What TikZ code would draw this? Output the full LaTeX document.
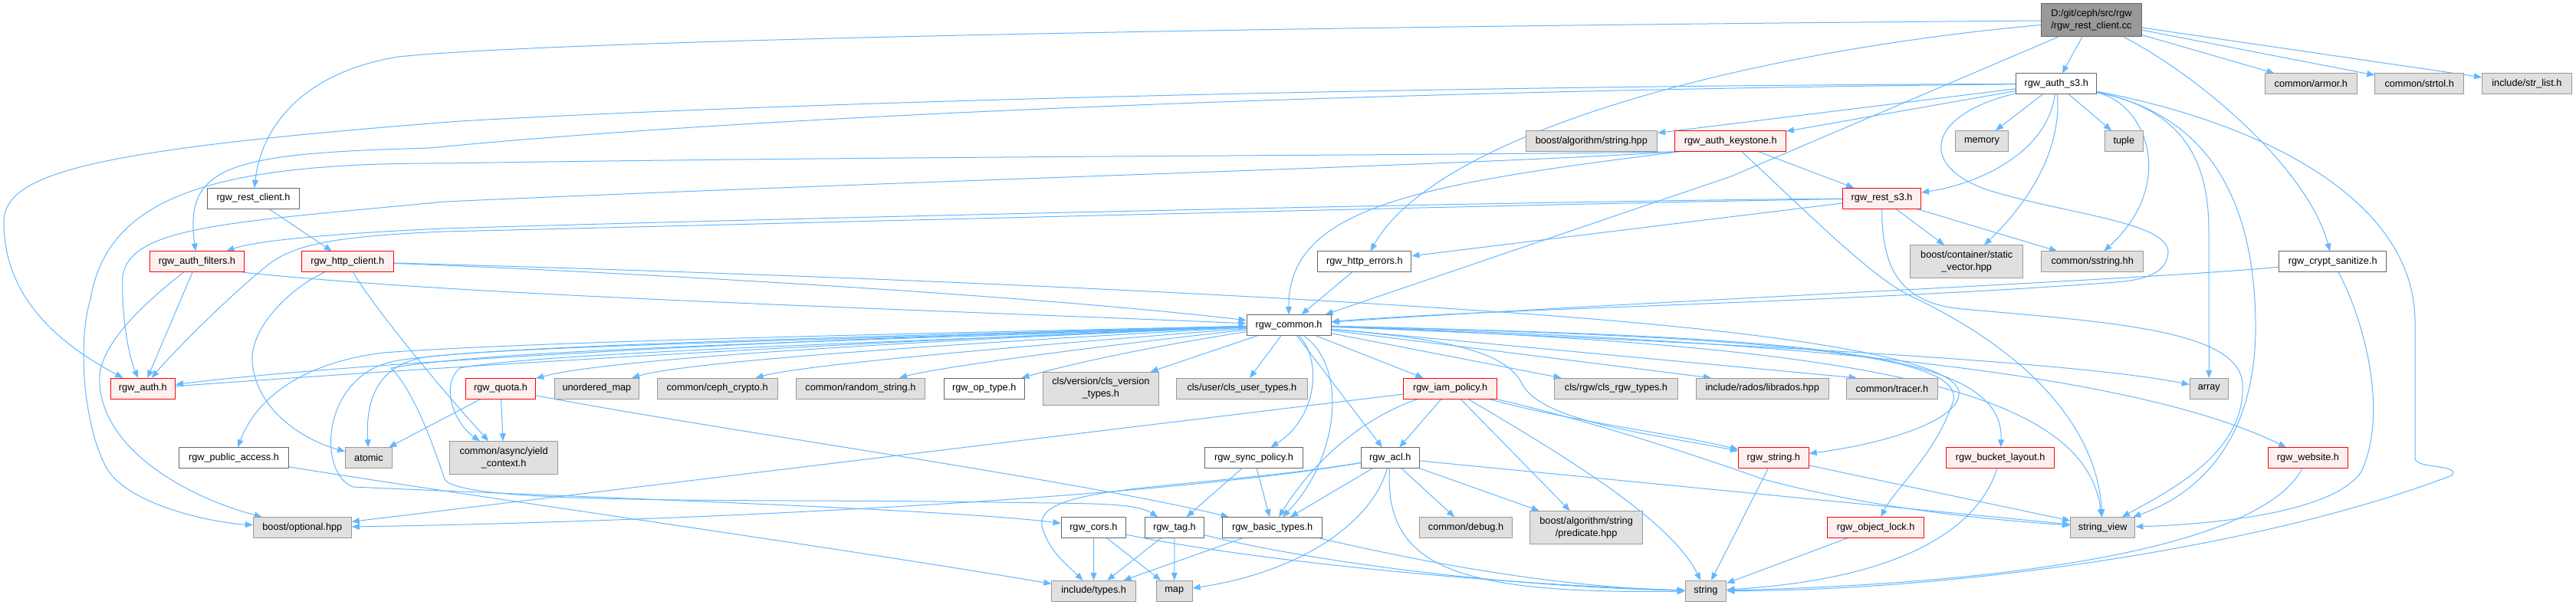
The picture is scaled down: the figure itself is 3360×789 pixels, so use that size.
\documentclass[tikz,border=0pt]{standalone}
\usepackage{fontspec}
\setmainfont{Liberation Sans}
\usetikzlibrary{arrows.meta,backgrounds}
\definecolor{edgec}{HTML}{63B8FF}
\definecolor{gfill}{HTML}{E0E0E0}
\definecolor{gline}{HTML}{999999}
\definecolor{wline}{HTML}{666666}
\definecolor{rfill}{HTML}{FFF0F0}
\definecolor{rline}{HTML}{FF0000}
\definecolor{rootfill}{HTML}{999999}
\begin{document}
\begin{tikzpicture}[x=1pt,y=-1pt,
  nodebox/.style={rectangle, line width=1pt, inner sep=0pt, minimum height=26.7pt, align=center, font=\fontsize{12.7}{16}\selectfont},
  gbox/.style={nodebox, draw=gline, fill=gfill},
  wbox/.style={nodebox, draw=wline, fill=white},
  rbox/.style={nodebox, draw=rline, fill=rfill},
  tbox/.style={nodebox, draw=wline, fill=rootfill},
  dep/.style={draw=edgec, line width=1pt, -{Triangle[length=10pt,width=8pt]}},
]
\useasboundingbox (0,0) rectangle (3360,789);
% ---------- nodes ----------
\node[tbox, minimum width=131pt, minimum height=43pt] (src) at (2727.9,26.5) {D:/git/ceph/src/rgw\\/rgw\_rest\_client.cc};
\node[wbox, minimum width=105.4pt] (authsthree) at (2682.2,109.3) {rgw\_auth\_s3.h};
\node[gbox, minimum width=120pt] (armor) at (3014.3,109.3) {common/armor.h};
\node[gbox, minimum width=115.7pt] (strtol) at (3155.7,109.3) {common/strtol.h};
\node[gbox, minimum width=116.8pt] (strlist) at (3295.9,109.3) {include/str\_list.h};
\node[gbox, minimum width=171.6pt] (bas) at (2075.8,184) {boost/algorithm/string.hpp};
\node[rbox, minimum width=144.6pt] (keystone) at (2257.2,184) {rgw\_auth\_keystone.h};
\node[gbox, minimum width=68.5pt] (memory) at (2585,184) {memory};
\node[gbox, minimum width=50pt] (tuple) at (2770.3,184) {tuple};
\node[wbox, minimum width=119.4pt] (restclient) at (330.5,258.7) {rgw\_rest\_client.h};
\node[rbox, minimum width=102.1pt] (rests) at (2454.6,258.7) {rgw\_rest\_s3.h};
\node[rbox, minimum width=122.4pt] (authfilters) at (256.9,341.3) {rgw\_auth\_filters.h};
\node[rbox, minimum width=120.2pt] (httpclient) at (453.3,341.3) {rgw\_http\_client.h};
\node[wbox, minimum width=122.1pt] (httperrors) at (1779.9,341.3) {rgw\_http\_errors.h};
\node[gbox, minimum width=146.5pt, minimum height=42.7pt] (staticvec) at (2565.2,341.3) {boost/container/static\\\_vector.hpp};
\node[gbox, minimum width=132.8pt] (sstring) at (2729.2,341.3) {common/sstring.hh};
\node[wbox, minimum width=140.4pt] (crypt) at (3042.7,341.3) {rgw\_crypt\_sanitize.h};
\node[wbox, minimum width=110.2pt] (common) at (1681.1,424) {rgw\_common.h};
\node[rbox, minimum width=84.3pt] (auth) at (186.4,506.7) {rgw\_auth.h};
\node[rbox, minimum width=91.4pt] (quota) at (653,506.7) {rgw\_quota.h};
\node[gbox, minimum width=110.6pt] (umap) at (778.4,506.7) {unordered\_map};
\node[gbox, minimum width=157.2pt] (cephcrypto) at (935.6,506.7) {common/ceph\_crypto.h};
\node[gbox, minimum width=168.3pt] (randstr) at (1122.4,506.7) {common/random\_string.h};
\node[wbox, minimum width=105.4pt] (optype) at (1283.7,506.7) {rgw\_op\_type.h};
\node[gbox, minimum width=150.2pt, minimum height=42.7pt] (clsversion) at (1435.9,506.7) {cls/version/cls\_version\\\_types.h};
\node[gbox, minimum width=170.9pt] (clsuser) at (1619.8,506.7) {cls/user/cls\_user\_types.h};
\node[rbox, minimum width=121.7pt] (iam) at (1891.7,506.7) {rgw\_iam\_policy.h};
\node[gbox, minimum width=160.5pt] (clsrgw) at (2108,506.7) {cls/rgw/cls\_rgw\_types.h};
\node[gbox, minimum width=172.7pt] (librados) at (2298.7,506.7) {include/rados/librados.hpp};
\node[gbox, minimum width=119.1pt] (tracer) at (2467.9,506.7) {common/tracer.h};
\node[gbox, minimum width=50.3pt] (array) at (2881.3,506.7) {array};
\node[wbox, minimum width=142.4pt] (pubaccess) at (305,597.2) {rgw\_public\_access.h};
\node[gbox, minimum width=60.7pt] (atomic) at (480.9,597.2) {atomic};
\node[gbox, minimum width=141.6pt, minimum height=43pt] (yield) at (657.1,597.2) {common/async/yield\\\_context.h};
\node[wbox, minimum width=127.6pt] (syncpolicy) at (1635.5,597.2) {rgw\_sync\_policy.h};
\node[wbox, minimum width=75.9pt] (acl) at (1813.3,597.2) {rgw\_acl.h};
\node[rbox, minimum width=91.7pt] (rgwstring) at (2313.3,597.2) {rgw\_string.h};
\node[rbox, minimum width=140.5pt] (bucketlayout) at (2609.2,597.2) {rgw\_bucket\_layout.h};
\node[rbox, minimum width=103.5pt] (website) at (3010.4,597.2) {rgw\_website.h};
\node[gbox, minimum width=128pt] (optional) at (394.3,688) {boost/optional.hpp};
\node[wbox, minimum width=84.4pt] (cors) at (1426.3,688) {rgw\_cors.h};
\node[wbox, minimum width=77.3pt] (tag) at (1531.9,688) {rgw\_tag.h};
\node[wbox, minimum width=129.5pt] (basictypes) at (1659.7,688) {rgw\_basic\_types.h};
\node[gbox, minimum width=121.3pt] (debug) at (1912,688) {common/debug.h};
\node[gbox, minimum width=146.5pt, minimum height=42.7pt] (predicate) at (2069.1,688) {boost/algorithm/string\\/predicate.hpp};
\node[rbox, minimum width=125.4pt] (objectlock) at (2446.6,688) {rgw\_object\_lock.h};
\node[gbox, minimum width=84.4pt] (stringview) at (2742.7,688) {string\_view};
\node[gbox, minimum width=109.5pt] (typesh) at (1426.6,770.7) {include/types.h};
\node[gbox, minimum width=46.6pt] (map) at (1531.7,770.7) {map};
\node[gbox, minimum width=53.7pt] (string) at (2225,770.7) {string};
% ---------- edges ----------
\begin{pgfonlayer}{background}
\fill[white] (0,0) rectangle (3360,789);
% source file
\draw[dep] (src) .. controls (1500,36) and (700,55) .. (520,74) .. controls (390,95) and (340,170) .. (restclient);
\draw[dep] (src) -- (authsthree);
\draw[dep] (src) .. controls (2250,70) and (1870,180) .. (httperrors);
\draw[dep] ([xshift=-44pt]src.south) -- (2258,230) -- ([xshift=-8pt]common.north east);
\draw[dep] (src) -- (armor);
\draw[dep] (src) -- (strtol);
\draw[dep] (src) -- (strlist);
\draw[dep] (src) .. controls (2870,100) and (3010,220) .. (crypt);
\draw[dep] (restclient) -- (httpclient);
% rgw_auth_s3.h
\draw[dep] (authsthree) -- (bas);
\draw[dep] (authsthree) -- (keystone);
\draw[dep] (authsthree) -- (memory);
\draw[dep] (authsthree) -- (tuple);
\draw[dep] (authsthree) .. controls (2670,200) and (2580,240) .. (rests);
\draw[dep] (authsthree) .. controls (2690,200) and (2640,270) .. (staticvec);
\draw[dep] (authsthree) .. controls (2800,135) and (2840,240) .. (sstring);
\draw[dep] (authsthree) .. controls (2830,140) and (2881,190) .. (2881,300) -- (array);
\draw[dep] (authsthree) .. controls (2880,150) and (2940,260) .. (2942,420) .. controls (2944,560) and (2880,640) .. (stringview);
\draw[dep] (authsthree) .. controls (2950,160) and (3150,260) .. (3150,420) -- (3150,598) .. controls (3152,612) and (3210,605) .. (3198,620) .. controls (2950,715) and (2550,770) .. (string);
\draw[dep] (authsthree) .. controls (2510,150) and (2500,220) .. (2600,250) .. controls (2700,280) and (2830,290) .. (2828,330) .. controls (2826,355) and (2800,365) .. (2760,368) .. controls (2400,395) and (1950,402) .. (common);
\draw[dep] (authsthree) .. controls (1800,112) and (1000,135) .. (600,158) .. controls (120,195) and (5,225) .. (5,290) .. controls (5,390) and (80,450) .. (auth);
\draw[dep] (authsthree) .. controls (1800,118) and (1000,150) .. (560,193) .. controls (300,200) and (240,215) .. (authfilters);
% rgw_auth_keystone.h
\draw[dep] (keystone) -- (rests);
\draw[dep] (keystone) .. controls (2360,280) and (2440,360) .. (2490,385) .. controls (2650,460) and (2735,560) .. (stringview);
\draw[dep] ([xshift=6pt]keystone.south west) .. controls (1850,240) and (1680,270) .. (common);
\draw[dep] ([xshift=3pt]keystone.south west) .. controls (1900,216) and (1200,235) .. (580,263) .. controls (300,290) and (170,295) .. (160,360) .. controls (158,420) and (170,470) .. (auth);
\draw[dep] ([xshift=1pt]keystone.south west) .. controls (1900,203) and (1200,203) .. (580,213) .. controls (270,212) and (140,260) .. (118,390) .. controls (100,450) and (110,560) .. (140,612) .. controls (170,660) and (280,682) .. (optional);
% rgw_auth_filters.h
\draw[dep] (authfilters) .. controls (195,390) and (125,450) .. (130,500) .. controls (135,590) and (250,650) .. (optional);
\draw[dep] (authfilters) -- (auth);
\draw[dep] ([xshift=-2pt]authfilters.south east) .. controls (600,385) and (1100,400) .. (common);
% rgw_http_client.h
\draw[dep] (httpclient) .. controls (380,375) and (320,430) .. (330,480) .. controls (340,540) and (400,575) .. (atomic);
\draw[dep] (httpclient) .. controls (480,390) and (560,490) .. (yield);
\draw[dep] (httpclient) .. controls (700,350) and (1300,380) .. (common);
\draw[dep] (httpclient) .. controls (1200,362) and (1700,388) .. (2000,410) .. controls (2300,432) and (2545,465) .. (2555,510) .. controls (2560,550) and (2450,580) .. (rgwstring);
\draw[dep] (httperrors) -- (common);
% rgw_rest_s3.h
\draw[dep] (rests) .. controls (2000,262) and (1000,285) .. (580,298) .. controls (420,305) and (330,315) .. (authfilters);
\draw[dep] (rests) .. controls (2000,266) and (1000,292) .. (580,302) .. controls (440,308) and (385,318) .. (350,345) .. controls (300,385) and (225,460) .. (auth);
\draw[dep] (rests) -- (httperrors);
\draw[dep] (rests) -- (staticvec);
\draw[dep] (rests) -- (sstring);
\draw[dep] (rests) .. controls (2455,340) and (2470,395) .. (2560,403) .. controls (2750,420) and (2920,430) .. (2925,500) .. controls (2930,590) and (2830,640) .. (stringview);
% rgw_crypt_sanitize.h
\draw[dep] (crypt) .. controls (2800,365) and (2100,395) .. (common);
\draw[dep] (crypt) .. controls (3085,420) and (3115,540) .. (3080,615) .. controls (3040,675) and (2850,685) .. (stringview);
% rgw_common.h
\draw[dep] (common) .. controls (1000,442) and (450,474) .. (auth);
\draw[dep] (auth) .. controls (460,487) and (1000,450) .. (common);
\draw[dep] (common) .. controls (1300,440) and (800,465) .. (quota);
\draw[dep] (common) .. controls (1300,445) and (900,470) .. (umap);
\draw[dep] (common) .. controls (1350,450) and (1050,475) .. (cephcrypto);
\draw[dep] (common) .. controls (1400,455) and (1220,480) .. (randstr);
\draw[dep] (common) .. controls (1450,460) and (1360,485) .. (optype);
\draw[dep] (common) -- (clsversion);
\draw[dep] (common) -- (clsuser);
\draw[dep] (common) -- (iam);
\draw[dep] (common) -- (clsrgw);
\draw[dep] (common) -- ([xshift=20pt]librados.north west);
\draw[dep] (common) -- ([xshift=14pt]tracer.north west);
\draw[dep] (common) .. controls (2200,445) and (2700,470) .. (array);
\draw[dep] (common) .. controls (2200,440) and (2750,470) .. (website);
\draw[dep] (common) .. controls (2350,440) and (2615,455) .. (bucketlayout);
\draw[dep] (common) .. controls (2400,450) and (2720,500) .. (stringview);
\draw[dep] (common) .. controls (2350,440) and (2580,465) .. (2545,530) .. controls (2525,590) and (2470,640) .. (objectlock);
\draw[dep] (common) .. controls (1850,440) and (1960,450) .. (1985,500) .. controls (2010,550) and (2150,565) .. (rgwstring);
\draw[dep] (common) .. controls (1725,470) and (1718,545) .. (syncpolicy);
\draw[dep] (common) .. controls (1760,480) and (1745,600) .. (basictypes);
\draw[dep] (common) -- (acl);
\draw[dep] (common) .. controls (1200,435) and (700,445) .. (500,460) .. controls (380,475) and (330,530) .. (pubaccess);
\draw[dep] (common) .. controls (1200,440) and (700,450) .. (560,465) .. controls (480,475) and (478,540) .. (atomic);
\draw[dep] (common) .. controls (1200,445) and (700,460) .. (600,480) .. controls (575,500) and (590,550) .. (yield);
\draw[dep] (common) .. controls (1100,440) and (650,450) .. (520,470) .. controls (420,485) and (412,615) .. (460,635) .. controls (800,650) and (1250,665) .. (cors);
\draw[dep] (common) .. controls (1100,445) and (650,455) .. (510,480) .. controls (540,510) and (565,580) .. (580,625) .. controls (600,660) and (1000,650) .. (1300,655) .. controls (1420,657) and (1480,655) .. (tag);
% rgw_quota.h
\draw[dep] (quota) -- (atomic);
\draw[dep] (quota) -- (yield);
\draw[dep] (quota) .. controls (900,555) and (1400,625) .. (basictypes);
% rgw_public_access.h
\draw[dep] (pubaccess) .. controls (600,645) and (1100,715) .. (typesh);
% rgw_sync_policy.h
\draw[dep] (syncpolicy) -- (tag);
\draw[dep] (syncpolicy) -- (basictypes);
% rgw_iam_policy.h
\draw[dep] (iam) -- (optional);
\draw[dep] (iam) -- (acl);
\draw[dep] (iam) .. controls (1790,540) and (1720,590) .. (basictypes);
\draw[dep] (iam) -- (predicate);
\draw[dep] (iam) .. controls (2050,600) and (2180,680) .. (string);
\draw[dep] (iam) .. controls (2050,550) and (2180,565) .. (rgwstring);
\draw[dep] (iam) .. controls (2080,550) and (2230,600) .. (2300,625) .. controls (2450,665) and (2600,678) .. (stringview);
% rgw_acl.h
\draw[dep] (acl) .. controls (1500,650) and (900,680) .. (optional);
\draw[dep] (acl) .. controls (1550,640) and (1340,630) .. (1360,690) .. controls (1370,720) and (1390,735) .. (typesh);
\draw[dep] (acl) -- (basictypes);
\draw[dep] (acl) .. controls (1790,680) and (1700,745) .. (map);
\draw[dep] (acl) .. controls (1805,740) and (1900,775) .. (string);
\draw[dep] (acl) -- (debug);
\draw[dep] (acl) -- (predicate);
\draw[dep] (acl) -- (stringview);
% others
\draw[dep] (rgwstring) -- (stringview);
\draw[dep] (rgwstring) -- (string);
\draw[dep] (bucketlayout) .. controls (2580,690) and (2480,755) .. (string);
\draw[dep] (objectlock) -- (string);
\draw[dep] (website) .. controls (2950,710) and (2650,760) .. (string);
\draw[dep] (cors) -- (typesh);
\draw[dep] (cors) -- (map);
\draw[dep] (cors) .. controls (1600,725) and (1900,760) .. (string);
\draw[dep] (tag) -- (typesh);
\draw[dep] (tag) -- (map);
\draw[dep] (tag) .. controls (1700,730) and (1950,765) .. (string);
\draw[dep] (basictypes) -- (typesh);
\draw[dep] (basictypes) .. controls (1800,720) and (2000,765) .. (string);
\end{pgfonlayer}
\end{tikzpicture}
\end{document}
